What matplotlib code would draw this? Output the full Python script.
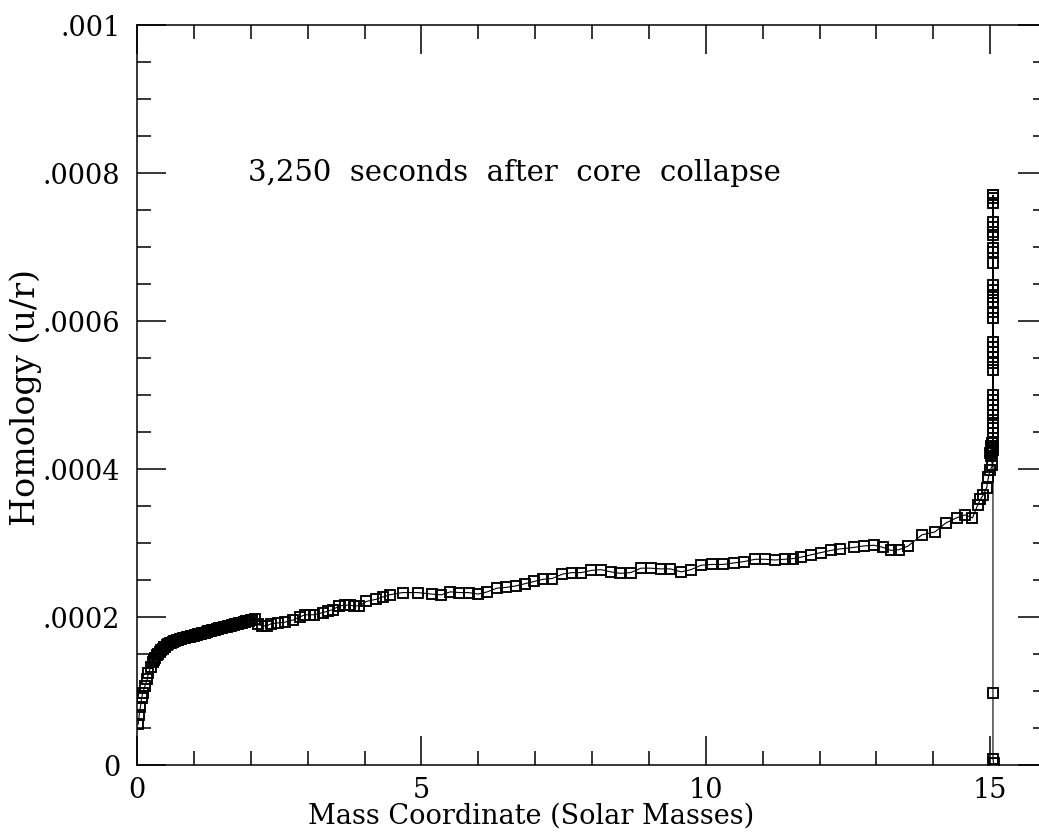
import numpy as np
import matplotlib
matplotlib.use('Agg')
import matplotlib.pyplot as plt
from matplotlib.ticker import FixedLocator, MultipleLocator, FixedFormatter

# mass coordinate (solar masses) and homology u/r (units of 1e-4)
mass_inner = [0.02, 0.04, 0.06, 0.08, 0.10, 0.14, 0.18, 0.20, 0.24, 0.28]
hom_inner = [0.55, 0.68, 0.78, 0.90, 0.97, 1.07, 1.16, 1.24, 1.32, 1.39]

mass_dense = [0.30, 0.325, 0.35, 0.375, 0.40, 0.425, 0.45, 0.475, 0.50, 0.525,
              0.55, 0.575, 0.60, 0.625, 0.65, 0.675, 0.70, 0.725, 0.75, 0.775,
              0.80, 0.825, 0.85, 0.875, 0.90, 0.925, 0.95, 0.975, 1.00, 1.025,
              1.05, 1.075, 1.10, 1.125, 1.15, 1.175, 1.20, 1.225, 1.25, 1.275,
              1.30, 1.325, 1.35, 1.375, 1.40, 1.425, 1.45, 1.475, 1.50, 1.525,
              1.55, 1.575, 1.60, 1.625, 1.65, 1.675, 1.70, 1.725, 1.75, 1.775,
              1.80, 1.825, 1.85, 1.875, 1.90, 1.925, 1.95, 1.975, 2.00, 2.03]
hom_dense = [1.42, 1.45, 1.48, 1.50, 1.53, 1.55, 1.57, 1.59, 1.60, 1.62,
             1.63, 1.645, 1.655, 1.665, 1.67, 1.68, 1.685, 1.69, 1.70, 1.705,
             1.71, 1.715, 1.72, 1.725, 1.73, 1.735, 1.74, 1.745, 1.75, 1.755,
             1.76, 1.765, 1.77, 1.775, 1.78, 1.785, 1.79, 1.80, 1.805, 1.81,
             1.815, 1.82, 1.825, 1.83, 1.835, 1.84, 1.845, 1.85, 1.855, 1.86,
             1.865, 1.87, 1.875, 1.88, 1.885, 1.89, 1.895, 1.90, 1.905, 1.91,
             1.915, 1.92, 1.925, 1.93, 1.935, 1.94, 1.945, 1.95, 1.955, 1.96]

mass_mid = [2.07, 2.12, 2.20, 2.28, 2.36, 2.48, 2.60, 2.75, 2.86, 2.95,
            3.04, 3.12, 3.27, 3.36, 3.44, 3.56, 3.65, 3.74, 3.82, 3.91,
            4.03, 4.21, 4.32, 4.44, 4.67, 4.94, 5.18, 5.35, 5.51, 5.67,
            5.83, 6.00, 6.16, 6.33, 6.49, 6.66, 6.82, 6.98, 7.14, 7.30,
            7.48, 7.65, 7.81, 7.99, 8.16, 8.33, 8.50, 8.68, 8.86, 9.03,
            9.21, 9.38, 9.57, 9.74, 9.92, 10.11, 10.30, 10.49, 10.68, 10.87,
            11.05, 11.22, 11.39, 11.54, 11.68, 11.85, 12.02, 12.20, 12.36, 12.60,
            12.78, 12.96, 13.12, 13.26, 13.40, 13.56, 13.80, 14.03, 14.22, 14.41,
            14.56, 14.69, 14.78, 14.83, 14.88, 14.94, 14.97, 15.00]
hom_mid = [1.97, 1.90, 1.88, 1.88, 1.91, 1.92, 1.93, 1.96, 2.00, 2.03,
           2.03, 2.03, 2.06, 2.08, 2.10, 2.15, 2.16, 2.16, 2.15, 2.15,
           2.21, 2.24, 2.27, 2.30, 2.33, 2.33, 2.31, 2.30, 2.34, 2.33,
           2.33, 2.31, 2.34, 2.39, 2.40, 2.42, 2.45, 2.48, 2.51, 2.52,
           2.58, 2.60, 2.60, 2.63, 2.64, 2.61, 2.59, 2.60, 2.66, 2.66,
           2.65, 2.65, 2.61, 2.64, 2.70, 2.71, 2.71, 2.73, 2.75, 2.78,
           2.78, 2.77, 2.78, 2.79, 2.81, 2.84, 2.87, 2.90, 2.92, 2.94,
           2.96, 2.97, 2.94, 2.90, 2.91, 2.96, 3.11, 3.15, 3.27, 3.34,
           3.38, 3.34, 3.51, 3.59, 3.65, 3.75, 3.89, 3.98]

mass_spike = [15.04, 15.01, 15.00, 15.01, 15.02, 15.02, 15.03, 15.04, 15.05, 15.05,
              15.05, 15.05, 15.05, 15.05, 15.05, 15.05, 15.05, 15.05, 15.05, 15.05,
              15.05, 15.05, 15.05, 15.05, 15.05, 15.05, 15.05, 15.05, 15.05, 15.05,
              15.05, 15.05, 15.05, 15.05, 15.05, 15.05, 15.05, 15.05, 15.05, 15.05,
              15.05, 15.05]
hom_spike = [4.05, 4.18, 4.22, 4.25, 4.28, 4.31, 4.35, 4.22, 4.26, 4.30,
             4.36, 4.49, 4.55, 4.62, 4.73, 4.80, 4.86, 4.93, 5.00, 5.34,
             5.43, 5.51, 5.58, 5.65, 5.72, 6.04, 6.12, 6.24, 6.32, 6.42,
             6.49, 6.78, 6.93, 6.99, 7.16, 7.20, 7.27, 7.34, 7.59, 7.66,
             7.70, 7.70]

mass_drop = [15.05, 15.05, 15.06]
hom_drop = [0.97, 0.08, 0.03]

ytick_vals = [0, 0.0002, 0.0004, 0.0006, 0.0008, 0.001]
ytick_text = ['0', '.0002', '.0004', '.0006', '.0008', '.001']
xtick_vals = [0, 5, 10, 15]
xtick_text = ['0', '5', '10', '15']

mass = np.array(mass_inner + mass_dense + mass_mid + mass_spike + mass_drop)
hom = np.array(hom_inner + hom_dense + hom_mid + hom_spike + hom_drop) * 1e-4

plt.rcParams['font.family'] = ['DejaVu Serif']

fig = plt.figure(figsize=(10.39, 8.35), dpi=100)
# right spine sits just past the right edge of the picture (x = 16)
ax = fig.add_axes([137 / 1039, 70 / 835, 910 / 1039, 740 / 835])

ax.plot(mass, hom, color='black', lw=0.8, marker='s', ms=7,
        mfc='none', mec='black', mew=1.35)

ax.set_xlim(0, 16)
ax.set_ylim(0, 0.001)

ax.xaxis.set_major_locator(FixedLocator(xtick_vals))
ax.xaxis.set_major_formatter(FixedFormatter(xtick_text))
ax.xaxis.set_minor_locator(MultipleLocator(1))
ax.yaxis.set_major_locator(FixedLocator(ytick_vals))
ax.yaxis.set_major_formatter(FixedFormatter(ytick_text))
ax.yaxis.set_minor_locator(MultipleLocator(0.00005))

ax.tick_params(which='both', direction='in', top=True, right=True,
               width=1.1, labelsize=19.5, colors='black')
ax.tick_params(which='major', length=21)
ax.tick_params(which='minor', length=10)
ax.tick_params(axis='y', which='major', pad=12)
ax.tick_params(axis='x', which='major', pad=9)
for sp in ax.spines.values():
    sp.set_linewidth(1.1)

ax.set_xlabel('Mass Coordinate (Solar Masses)', fontsize=19.5)
ax.xaxis.set_label_coords(0.433, -0.051)
ax.set_ylabel('Homology (u/r)', fontsize=24)
ax.yaxis.set_label_coords(-0.104, 0.497)

ax.text(1.95, 0.0008, '3,250  seconds  after  core  collapse', fontsize=21,
        ha='left', va='center')

fig.savefig('out.png', dpi=100)
